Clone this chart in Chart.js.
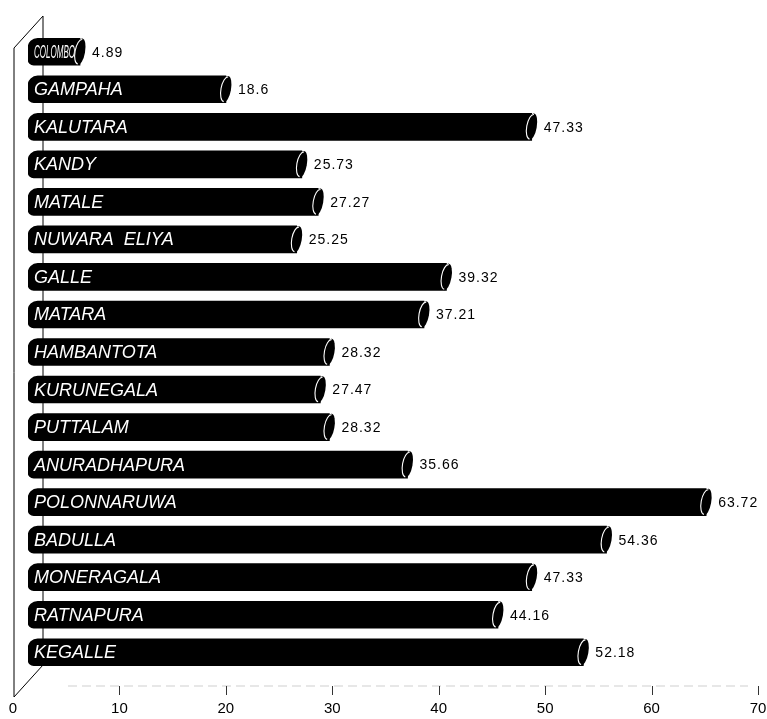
<!DOCTYPE html>
<html>
<head>
<meta charset="utf-8">
<script src="https://cdn.jsdelivr.net/npm/chart.js@4.4.1/dist/chart.umd.min.js"></script>
<style>
  html, body { margin: 0; padding: 0; background: #fff; overflow: hidden; }
  #wrap { width: 790px; height: 721px; }
</style>
</head>
<body>
<div id="wrap"><canvas id="chart"></canvas></div>
<script>
const districts = [
  'COLOMBO', 'GAMPAHA', 'KALUTARA', 'KANDY', 'MATALE', 'NUWARA  ELIYA',
  'GALLE', 'MATARA', 'HAMBANTOTA', 'KURUNEGALA', 'PUTTALAM', 'ANURADHAPURA',
  'POLONNARUWA', 'BADULLA', 'MONERAGALA', 'RATNAPURA', 'KEGALLE'
];
const povertyRates = [
  4.89, 18.6, 47.33, 25.73, 27.27, 25.25,
  39.32, 37.21, 28.32, 27.47, 28.32, 35.66,
  63.72, 54.36, 47.33, 44.16, 52.18
];
const xTickValues = [0, 10, 20, 30, 40, 50, 60, 70];

const FONT = '"Liberation Sans", Arial, Helvetica, sans-serif';
const DEPTH = 15; // horizontal shift between the floor edge and the bar fronts

// left wall, back edge and floor of the pseudo-3D box
const frame = {
  id: 'frame',
  beforeDatasetsDraw(chart) {
    const { ctx, chartArea: a } = chart;
    const front = a.left - 14, back = a.left + DEPTH;
    ctx.save();
    ctx.strokeStyle = '#000';
    ctx.lineWidth = 1;
    ctx.beginPath();
    ctx.moveTo(front, a.bottom + 26);
    ctx.lineTo(front, a.top + 15);
    ctx.lineTo(back, a.top - 17);
    ctx.lineTo(back, a.bottom - 6);
    ctx.lineTo(front, a.bottom + 26);
    ctx.stroke();

    // floor edge, faint and broken
    ctx.strokeStyle = '#cfcfcf';
    ctx.setLineDash([9, 5]);
    ctx.beginPath();
    ctx.moveTo(a.left + 40, a.bottom + 15);
    ctx.lineTo(a.right - 25, a.bottom + 15);
    ctx.stroke();
    ctx.setLineDash([]);

    // tick marks under each axis label
    const xs = chart.scales.x;
    ctx.strokeStyle = '#333';
    xTickValues.forEach(v => {
      if (v === 0) return;
      const px = Math.round(xs.getPixelForValue(v) - DEPTH) + 0.5;
      ctx.beginPath();
      ctx.moveTo(px, a.bottom + 15);
      ctx.lineTo(px, a.bottom + 24);
      ctx.stroke();
    });
    ctx.restore();
  }
};

// cylinder end caps, names inside the bars and values beside them
const cylinders = {
  id: 'cylinders',
  afterDatasetsDraw(chart) {
    const { ctx, chartArea: a } = chart;
    const meta = chart.getDatasetMeta(0);
    ctx.save();
    meta.data.forEach((bar, i) => {
      const ry = bar.height / 2;
      const rx = 5;
      ctx.fillStyle = '#000';
      ctx.beginPath();
      ctx.ellipse(bar.x, bar.y, rx, ry, 0.18, 0, Math.PI * 2);
      ctx.fill();
      ctx.strokeStyle = '#fff';
      ctx.lineWidth = 1.1;
      ctx.beginPath();
      ctx.ellipse(bar.x, bar.y, rx, ry - 1, 0.18, Math.PI / 2, Math.PI * 1.5);
      ctx.stroke();

      const tx = a.left + 6;
      ctx.fillStyle = '#fff';
      ctx.font = 'italic 18px ' + FONT;
      ctx.textAlign = 'left';
      ctx.textBaseline = 'middle';
      ctx.fillText(districts[i], tx, bar.y + 1, bar.x - tx - 5);

      ctx.fillStyle = '#000';
      ctx.font = '14px ' + FONT;
      ctx.letterSpacing = '1px';
      ctx.fillText(String(povertyRates[i]), bar.x + 12, bar.y + 1);
      ctx.letterSpacing = '0px';
    });
    ctx.restore();
  }
};

new Chart(document.getElementById('chart'), {
  type: 'bar',
  data: {
    labels: districts,
    datasets: [{
      data: povertyRates,
      backgroundColor: '#000',
      borderWidth: 0,
      borderSkipped: false,
      borderRadius: { topLeft: 10, bottomLeft: 6, topRight: 0, bottomRight: 0 },
      barThickness: 27
    }]
  },
  options: {
    indexAxis: 'y',
    responsive: true,
    maintainAspectRatio: false,
    animation: false,
    layout: {
      padding: { left: 28, right: 17, top: 33, bottom: 0 }
    },
    scales: {
      x: {
        type: 'linear',
        min: 0,
        max: 70,
        afterBuildTicks: (scale) => {
          scale.ticks = xTickValues.map(v => ({ value: v }));
        },
        grid: { display: false, drawTicks: true, tickLength: 26 },
        border: { display: false },
        ticks: {
          color: '#000',
          padding: 3,
          labelOffset: -DEPTH,
          maxRotation: 0,
          font: { family: FONT, size: 15 }
        }
      },
      y: {
        display: false,
        grid: { display: false }
      }
    },
    plugins: {
      legend: { display: false },
      tooltip: { enabled: false }
    }
  },
  plugins: [frame, cylinders]
});
</script>
</body>
</html>
